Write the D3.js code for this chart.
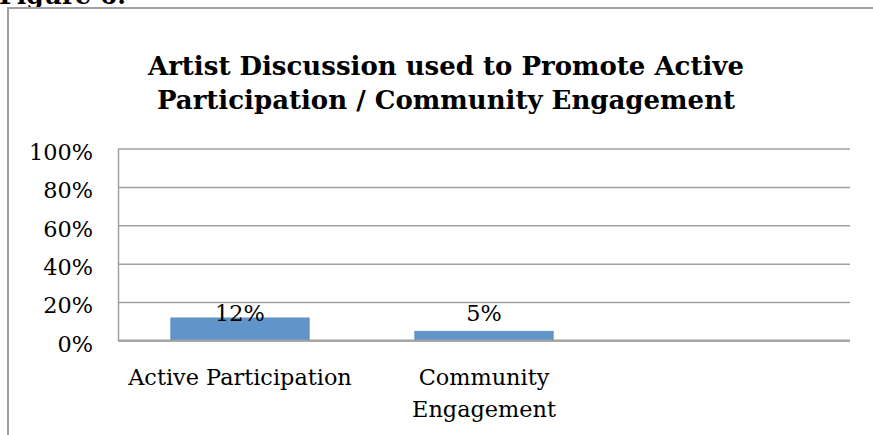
<!DOCTYPE html>
<html>
<head>
<meta charset="utf-8">
<script src="https://cdn.jsdelivr.net/npm/d3@7/dist/d3.min.js"></script>
<style>
  html, body { margin: 0; padding: 0; background: #fff; }
  svg { display: block; }
  text { font-family: "DejaVu Serif", "Liberation Serif", serif; fill: #000; }
</style>
</head>
<body>
<svg id="chart" width="873" height="435"></svg>
<script>
// Share of artist discussions used for each purpose
const categories = ["Active Participation", "Community Engagement", ""];
const values = [0.12, 0.05, null];
const yTicks = [0, 0.2, 0.4, 0.6, 0.8, 1.0];
const titleLines = ["Artist Discussion used to Promote Active", "Participation / Community Engagement"];
const figureLabel = "Figure 6:";

const W = 873, H = 435;
const plot = { left: 118, right: 850, top: 148.5, bottom: 340.5 };
const gray = "#a0a0a0";
const barColor = "#6195c9";
const labelSize = 22.4;

const svg = d3.select("#chart");

// caption above the chart frame (partly cut off by the top edge)
svg.append("text")
  .attr("x", -1).attr("y", 3.5)
  .attr("font-weight", "bold").attr("font-size", 25)
  .text(figureLabel);

// chart frame
svg.append("rect")
  .attr("x", 8).attr("y", 8)
  .attr("width", W + 20).attr("height", H + 20)
  .attr("fill", "none").attr("stroke", gray).attr("stroke-width", 2);

// title
svg.append("text")
  .attr("text-anchor", "middle")
  .attr("font-weight", "bold").attr("font-size", 26)
  .selectAll("tspan").data(titleLines).join("tspan")
  .attr("x", 446)
  .attr("y", (d, i) => 75 + i * 34)
  .text(d => d);

const x = d3.scaleBand()
  .domain(d3.range(categories.length))
  .range([plot.left, plot.right])
  .paddingInner(0.75 / 1.75)
  .paddingOuter(0.75 / 3.5);

const y = d3.scaleLinear().domain([0, 1]).range([plot.bottom, plot.top]);

// horizontal gridlines
svg.append("g")
  .attr("transform", `translate(${plot.left},0)`)
  .call(d3.axisLeft(y).tickValues(yTicks).tickSize(-(plot.right - plot.left)).tickFormat(""))
  .call(g => g.select(".domain").remove())
  .call(g => g.selectAll(".tick line").attr("stroke", gray).attr("stroke-width", 1.5));

// value axis with percent labels
svg.append("g")
  .attr("transform", `translate(${plot.left},0)`)
  .call(d3.axisLeft(y).tickValues(yTicks).tickSize(0).tickPadding(25).tickFormat(d3.format(".0%")))
  .call(g => g.select(".domain").attr("stroke", gray).attr("stroke-width", 1.5))
  .call(g => g.selectAll(".tick text")
    .attr("font-family", "DejaVu Serif, serif")
    .attr("font-size", labelSize).attr("fill", "#000").attr("dy", "0.48em"));

// bars
const rows = categories.map((c, i) => ({ i, c, v: values[i] })).filter(d => d.v != null);
svg.append("g").selectAll("rect").data(rows).join("rect")
  .attr("x", d => x(d.i))
  .attr("y", d => y(d.v))
  .attr("width", x.bandwidth())
  .attr("height", d => y(0) - y(d.v))
  .attr("fill", barColor);

// category axis baseline
svg.append("line")
  .attr("x1", plot.left).attr("x2", plot.right)
  .attr("y1", y(0)).attr("y2", y(0))
  .attr("stroke", gray).attr("stroke-width", 2);

// data labels
svg.append("g").selectAll("text").data(rows).join("text")
  .attr("x", d => x(d.i) + x.bandwidth() / 2)
  .attr("y", y(0.10))
  .attr("text-anchor", "middle")
  .attr("font-size", labelSize)
  .text(d => d3.format(".0%")(d.v));

// category labels, wrapped to the category width
const catG = svg.append("g");
categories.forEach((c, i) => {
  if (!c) return;
  const t = catG.append("text")
    .attr("text-anchor", "middle")
    .attr("font-size", labelSize);
  const cx = x(i) + x.bandwidth() / 2;
  const words = c.split(" ");
  let lines = [], cur = [];
  const probe = t.append("tspan");
  words.forEach(w => {
    const trial = cur.concat(w).join(" ");
    probe.text(trial);
    if (probe.node().getComputedTextLength() > x.step() - 4 && cur.length) {
      lines.push(cur.join(" "));
      cur = [w];
    } else cur.push(w);
  });
  lines.push(cur.join(" "));
  probe.remove();
  t.selectAll("tspan").data(lines).join("tspan")
    .attr("x", cx)
    .attr("y", (d, k) => 385 + k * 32)
    .text(d => d);
});
</script>
</body>
</html>
